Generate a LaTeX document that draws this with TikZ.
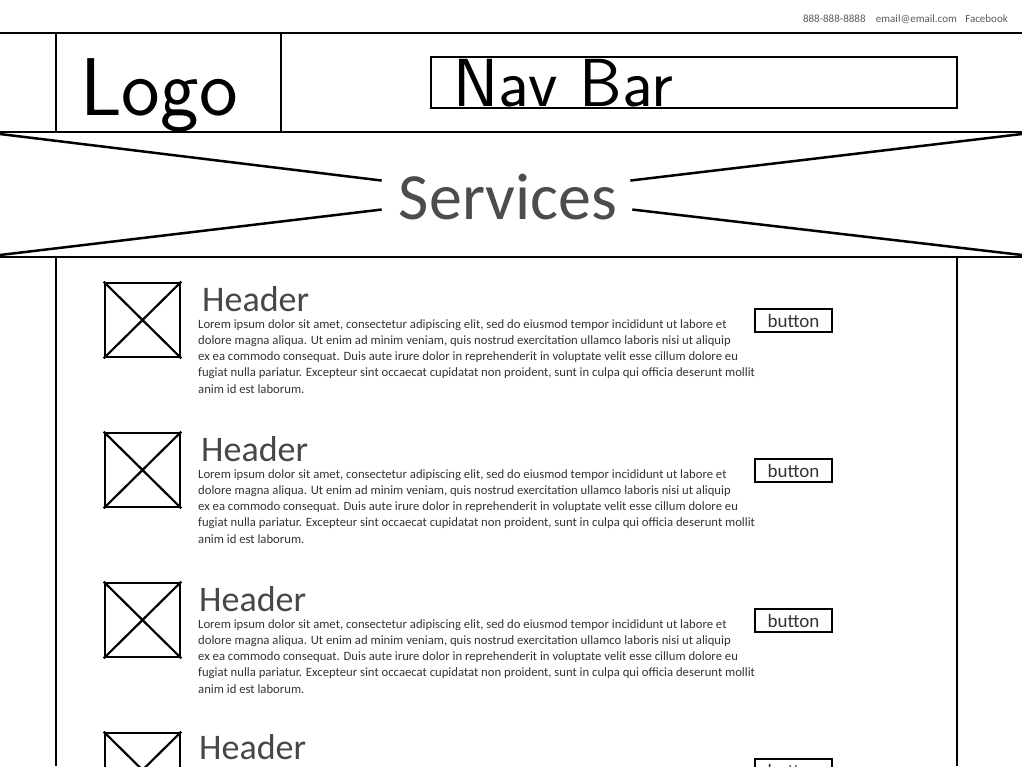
\documentclass[tikz,border=0pt]{standalone}
\usepackage{fontspec}
\setmainfont{Carlito}
\usepackage{xcolor}
\usetikzlibrary{positioning, calc}

\newcommand{\loremtext}{Lorem ipsum dolor sit amet, consectetur adipiscing elit, sed do eiusmod tempor incididunt ut labore et\\
dolore magna aliqua. Ut enim ad minim veniam, quis nostrud exercitation ullamco laboris nisi ut aliquip\\
ex ea commodo consequat. Duis aute irure dolor in reprehenderit in voluptate velit esse cillum dolore eu\\
fugiat nulla pariatur. Excepteur sint occaecat cupidatat non proident, sunt in culpa qui officia deserunt mollit\\
anim id est laborum.}

\begin{document}
\begin{tikzpicture}[
    x=1pt, y=-1pt,
    rule/.style={line width=2.8pt, black},
    sketch/.style={draw, line width=2pt},
    imgbox/.style={draw, line width=2.6pt, minimum width=75pt, minimum height=74pt, inner sep=0pt},
    btn/.style={draw, line width=2.4pt, minimum width=77pt, minimum height=23pt, inner sep=0pt, font=\fontsize{19}{19}\selectfont, text=black!80},
    heading/.style={font=\fontsize{36}{36}\selectfont, text=black!72, inner sep=0pt, anchor=base west},
    body/.style={font=\fontsize{12.7}{16.3}\selectfont, text=black!80, align=left, inner sep=0pt, anchor=north west},
    contact/.style={font=\fontsize{11}{11}\selectfont, text=black!65, inner sep=0pt},
    hand/.style={font=\sffamily\fontsize{#1}{#1}\selectfont, inner sep=0pt, anchor=base west}
]
\useasboundingbox (0,0) rectangle (1022,766);
\clip (0,0) rectangle (1022,766);

% === TOP STRIP: contact info ===
\node[contact, anchor=base east] (facebook) at (1008,22) {Facebook};
\node[contact, base left=8pt of facebook] (email) {email@email.com};
\node[contact, base left=10pt of email] (phone) {888-888-8888};

% === HEADER: logo + nav bar ===
\draw[rule] (0,33) -- (1022,33);
\node[sketch, minimum width=225pt, minimum height=99pt, inner sep=0pt] (logo) at (168.5,82.5) {};
\node[hand=82] (logotext) at (80,115) {Logo};
\node[sketch, line width=2.5pt, minimum width=526pt, minimum height=51pt, inner sep=0pt] (navbar) at (694,82.5) {};
\node[hand=68] (navtext) at (453,106) {Nav Bar};

% === BANNER ===
\draw[rule] (0,132) -- (1022,132);
\draw[rule] (0,257) -- (1022,257);
\coordinate (bannerNW) at (0,134);
\coordinate (bannerSW) at (0,255);
\coordinate (bannerNE) at (1022,134);
\coordinate (bannerSE) at (1022,255);
\node[font=\fontsize{66}{66}\selectfont, text=black!70, inner sep=0pt, anchor=base] (services) at (508,219) {Services};
\draw[rule, line width=2.5pt] (bannerNW) -- ([xshift=-17pt, yshift=16pt]services.west);
\draw[rule, line width=2.5pt] (bannerSW) -- ([xshift=-17pt, yshift=-13pt]services.west);
\draw[rule, line width=2.5pt] (bannerNE) -- ([xshift=13pt, yshift=16pt]services.east);
\draw[rule, line width=2.5pt] (bannerSE) -- ([xshift=15pt, yshift=-13pt]services.east);

% === CONTENT FRAME ===
\draw[rule, line width=2.2pt] (56,257) -- (56,766);
\draw[rule, line width=2.2pt] (957,257) -- (957,766);

% === ROW 1 ===
\node[imgbox] (img1) at (142.5,320) {};
\draw[line width=2.2pt] (img1.north west) -- (img1.south east);
\draw[line width=2.2pt] (img1.north east) -- (img1.south west);
\node[heading] (head1) at (202,311) {Header};
\node[body] (text1) at (198,319) {\loremtext};
\node[btn] (btn1) at (793.5,320.5) {button};

% === ROW 2 ===
\node[imgbox] (img2) at (142.5,470) {};
\draw[line width=2.2pt] (img2.north west) -- (img2.south east);
\draw[line width=2.2pt] (img2.north east) -- (img2.south west);
\node[heading] (head2) at (201,461) {Header};
\node[body] (text2) at (198,469) {\loremtext};
\node[btn] (btn2) at (793.5,470.5) {button};

% === ROW 3 ===
\node[imgbox] (img3) at (142.5,620) {};
\draw[line width=2.2pt] (img3.north west) -- (img3.south east);
\draw[line width=2.2pt] (img3.north east) -- (img3.south west);
\node[heading] (head3) at (199,611) {Header};
\node[body] (text3) at (198,619) {\loremtext};
\node[btn] (btn3) at (793.5,620.5) {button};

% === ROW 4 (cut off) ===
\node[imgbox] (img4) at (142.5,770) {};
\draw[line width=2.2pt] (img4.north west) -- (img4.south east);
\draw[line width=2.2pt] (img4.north east) -- (img4.south west);
\node[heading] (head4) at (199,759) {Header};
\node[btn] (btn4) at (793.5,770.5) {button};

\end{tikzpicture}
\end{document}
